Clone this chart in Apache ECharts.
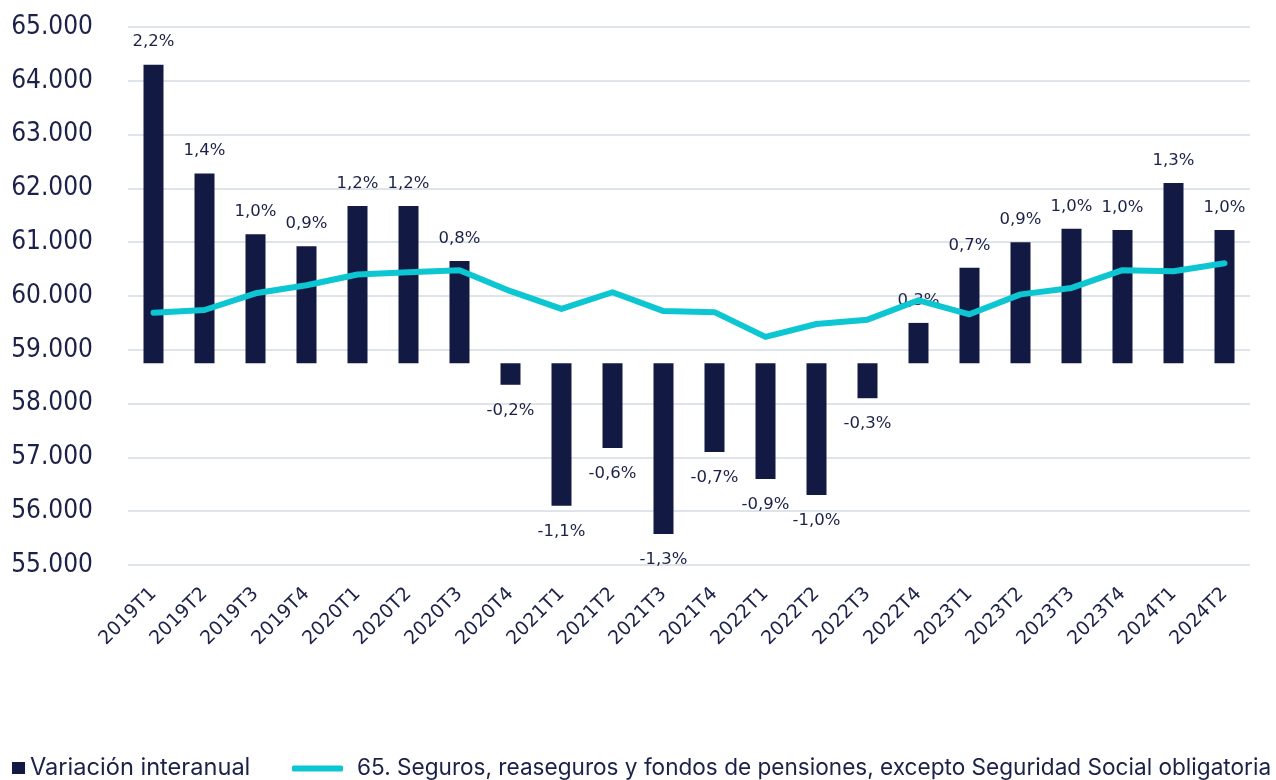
<!DOCTYPE html>
<html>
<head>
<meta charset="utf-8">
<script src="https://cdn.jsdelivr.net/npm/echarts@6/dist/echarts.min.js"></script>
<style>html,body{margin:0;padding:0;background:#fff}#c{width:1276px;height:780px}</style>
</head>
<body>
<div id="c"></div>
<script>
const categories = ['2019T1','2019T2','2019T3','2019T4','2020T1','2020T2','2020T3','2020T4','2021T1','2021T2','2021T3','2021T4','2022T1','2022T2','2022T3','2022T4','2023T1','2023T2','2023T3','2023T4','2024T1','2024T2'];
const variacion = [2.22, 1.41, 0.96, 0.87, 1.17, 1.17, 0.76, -0.16, -1.06, -0.63, -1.27, -0.66, -0.86, -0.98, -0.26, 0.30, 0.71, 0.90, 1.00, 0.99, 1.34, 0.99];
const afiliados = [59690, 59740, 60050, 60200, 60400, 60440, 60480, 60090, 59760, 60070, 59720, 59700, 59240, 59480, 59560, 59920, 59660, 60030, 60150, 60480, 60460, 60610];
const seriesNames = ['Variación interanual', '65. Seguros, reaseguros y fondos de pensiones, excepto Seguridad Social obligatoria'];

const navy = '#121a44';
const cyan = '#0cc6d2';
const textColor = '#1b2148';
const dejavu = '"DejaVu Sans", sans-serif';
const dejavuCond = '"DejaVu Sans Condensed", "DejaVu Sans", sans-serif';

const fmtThousands = v => String(v).replace(/\B(?=(\d{3})+(?!\d))/g, '.');
const fmtPct = v => v.toFixed(1).replace('.', ',') + '%';

const barData = variacion.map(v => ({
  value: v,
  label: v >= 0 ? { position: 'top', distance: 14 } : { position: 'bottom', distance: 17 }
}));

const chart = echarts.init(document.getElementById('c'), null, { renderer: 'canvas' });
chart.setOption({
  animation: false,
  backgroundColor: '#ffffff',
  grid: { left: 128, right: 26, top: 27, bottom: 215, containLabel: false },
  legend: [
    {
      data: [{ name: seriesNames[0], icon: 'rect' }],
      left: 12, bottom: 0, padding: 0,
      itemWidth: 13, itemHeight: 12,
      textStyle: { fontFamily: 'Inter', fontSize: 23.6, color: textColor, padding: [0, 0, 0, 0] }
    },
    {
      data: [{ name: seriesNames[1], icon: 'roundRect' }],
      left: 292, bottom: 0, padding: 0,
      itemWidth: 51, itemHeight: 6,
      textStyle: { fontFamily: 'Inter', fontSize: 22.6, color: textColor, padding: [0, 0, 0, 9] }
    }
  ],
  xAxis: {
    type: 'category',
    data: categories,
    axisLine: { show: false },
    axisTick: { show: false },
    axisLabel: {
      rotate: 45,
      interval: 0,
      margin: 26,
      fontFamily: dejavu,
      fontSize: 19,
      color: textColor
    }
  },
  yAxis: [
    {
      type: 'value',
      min: 55000, max: 65000, interval: 1000,
      axisLine: { show: false },
      axisTick: { show: false },
      splitLine: { lineStyle: { color: '#dfe3ea', width: 2 } },
      axisLabel: {
        margin: 35,
        fontFamily: dejavuCond,
        fontSize: 26,
        color: textColor,
        formatter: v => fmtThousands(v)
      }
    },
    {
      type: 'value',
      min: -1.5, max: 2.5, interval: 0.5,
      show: false,
      splitLine: { show: false }
    }
  ],
  series: [
    {
      name: seriesNames[0],
      type: 'bar',
      yAxisIndex: 1,
      data: barData,
      barWidth: 20,
      z: 2,
      itemStyle: { color: navy },
      label: {
        show: true,
        fontFamily: dejavu,
        fontSize: 16.5,
        color: textColor,
        formatter: p => fmtPct(p.value)
      }
    },
    {
      name: seriesNames[1],
      type: 'line',
      yAxisIndex: 0,
      data: afiliados,
      z: 3,
      showSymbol: false,
      symbol: 'none',
      lineStyle: { color: cyan, width: 6, cap: 'round', join: 'round' },
      itemStyle: { color: cyan }
    }
  ]
});
</script>
</body>
</html>
